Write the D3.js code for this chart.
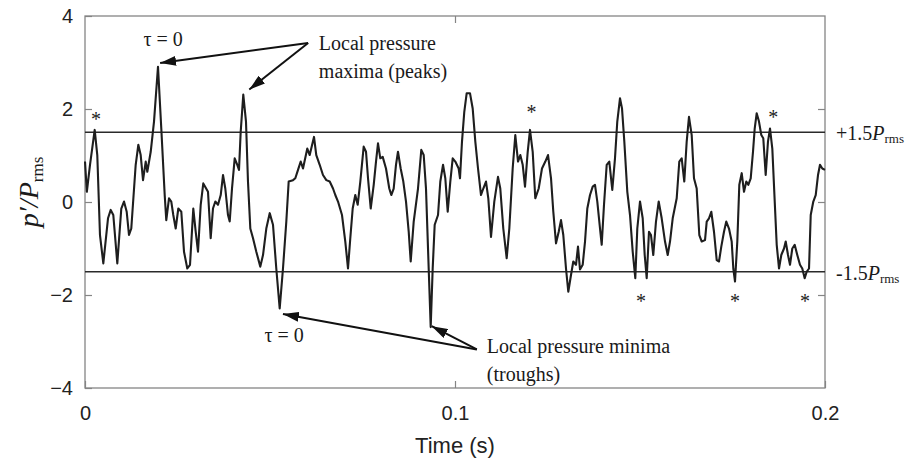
<!DOCTYPE html>
<html>
<head>
<meta charset="utf-8">
<script src="https://cdn.jsdelivr.net/npm/d3@7"></script>
<style>
  html, body { margin: 0; padding: 0; background: #fff; }
  svg { display: block; }
</style>
</head>
<body>
<svg id="chart" width="908" height="462"></svg>
<script>
// Normalised wall-pressure fluctuation p'/P_rms against time
const timeMs = [
  0, 0.5, 1.35, 2.62, 3.32, 4.05, 4.95, 6.22, 6.95, 7.65, 8.73, 9.81, 10.54, 11.27, 11.89, 12.51,
  13.70, 14.41, 15.05, 15.68, 16.41, 16.84, 17.76, 18.65, 19.73, 20.62, 21.54, 21.97, 22.70, 23.32,
  23.86, 24.51, 25.22, 26.03, 26.76, 27.65, 28.38, 29.27, 29.92, 30.54, 31.27, 31.97, 33.24, 33.97,
  34.59, 35.22, 35.95, 36.68, 37.30, 37.92, 38.65, 39.11, 39.73, 40.46, 41.16, 41.62, 42.08, 42.78,
  43.51, 44.05, 44.68, 45.41, 46.30, 47.38, 48.11, 49.00, 49.92, 50.81, 51.70, 52.62, 53.51, 54.41,
  55.05, 56.22, 56.84, 57.57, 58.30, 58.92, 60.08, 60.73, 61.89, 62.51, 63.43, 64.32, 65.22, 66.14,
  67.03, 67.65, 68.38, 69.46, 70.35, 71.08, 71.70, 72.35, 73.05, 73.70, 74.41, 75.32, 75.95, 76.49,
  77.22, 78.03, 78.65, 79.19, 79.81, 80.46, 81.35, 82.24, 82.78, 83.43, 84.05, 84.59, 85.32, 86.03,
  86.76, 87.49, 88.03, 88.84, 90.00, 90.89, 91.54, 92.16, 92.89, 93.43, 93.97, 94.51, 95.41, 96.03,
  96.76, 97.38, 98.03, 98.73, 99.38, 100.08, 100.99, 101.35, 101.89, 102.51, 103.16, 104.05, 104.78,
  105.49, 106.22, 107.03, 107.65, 108.38, 109.00, 109.73, 110.62, 111.62, 112.24, 113.05, 113.97,
  114.68, 115.59, 116.30, 117.03, 117.65, 118.30, 118.92, 119.65, 120.27, 121.00, 121.70, 122.62,
  123.51, 124.41, 125.14, 125.95, 126.57, 127.30, 128.03, 128.65, 129.27, 130.00, 130.62, 131.35,
  131.97, 132.70, 133.24, 133.78, 134.51, 135.14, 135.76, 136.49, 137.22, 137.84, 138.46, 139.19,
  139.65, 140.27, 141.00, 141.70, 142.51, 143.24, 143.86, 144.59, 145.14, 145.76, 146.57, 147.30,
  148.03, 148.73, 149.27, 150.00, 150.73, 151.27, 151.81, 152.43, 152.97, 153.59, 154.32, 155.05,
  155.86, 156.76, 157.49, 158.11, 158.84, 159.92, 160.62, 161.27, 161.97, 162.62, 163.24, 163.97,
  164.59, 165.32, 166.03, 166.68, 167.57, 168.03, 168.65, 169.27, 170.00, 170.73, 171.35, 171.97,
  172.70, 173.32, 174.05, 174.78, 175.22, 175.68, 176.30, 176.84, 177.49, 178.11, 178.73, 179.27,
  179.92, 180.54, 181.00, 181.54, 182.16, 182.78, 183.32, 183.97, 184.59, 185.14, 185.76, 186.41,
  186.95, 187.57, 188.19, 188.92, 189.38, 190.00, 190.54, 191.16, 191.81, 192.51, 193.24, 193.86,
  194.51, 195.05, 195.68, 196.14, 196.84, 197.49, 198.11, 198.65, 199.27, 200.00
];
const pressure = [
  0.87, 0.22, 0.80, 1.55, 1.01, -0.71, -1.32, -0.35, -0.17, -0.28, -1.32, -0.14, 0.01, -0.21, -0.71, -0.57,
  0.80, 1.23, 1.01, 0.47, 0.87, 0.65, 1.08, 1.73, 2.91, 1.58, 0.15, -0.39, 0.08, 0.01,
  -0.28, -0.57, -0.14, -0.21, -1.07, -1.43, -1.35, -0.14, -0.64, -1.07, -0.06, 0.40, 0.22, -0.78,
  -0.14, 0.01, -0.06, 0.15, 0.58, 0.29, -0.28, -0.42, 0.29, 0.94, 0.80, 0.69, 1.51, 2.31,
  1.73, 0.44, -0.57, -0.78, -1.07, -1.39, -1.14, -0.57, -0.24, -0.49, -1.43, -2.29, -1.43, -0.42,
  0.44, 0.47, 0.51, 0.69, 0.87, 0.72, 1.15, 1.01, 1.40, 1.01, 0.80, 0.58, 0.47, 0.44,
  0.29, 0.15, 0.01, -0.28, -0.85, -1.43, -0.78, -0.14, 0.15, -0.06, 0.44, 1.19, 1.08, 0.51,
  -0.14, 0.37, 0.87, 1.26, 0.94, 0.97, 0.72, 0.29, 0.15, 0.29, 0.80, 1.08, 0.72, 0.44,
  0.01, -0.64, -1.28, -0.42, 0.29, 1.12, 1.01, 0.29, -1.43, -2.69, -1.43, -0.49, -0.28, 0.44,
  0.80, 0.51, -0.21, 0.44, 0.94, 0.87, 0.72, 0.51, 1.30, 1.94, 2.34, 2.34, 2.01,
  1.30, 0.72, 0.15, 0.29, 0.44, 0.08, -0.75, 0.01, 0.54, 0.29, -0.57, -1.21,
  -0.57, 0.72, 1.44, 0.87, 1.01, 0.80, 0.33, 1.08, 1.55, 1.08, 0.08, 0.29,
  0.72, 0.87, 1.01, 0.51, -0.21, -0.89, -0.64, -0.39, -0.71, -1.43, -1.93, -1.57,
  -1.28, -1.35, -0.96, -1.45, -1.35, -0.85, -0.14, 0.15, 0.33, 0.37, 0.01, -0.57,
  -0.92, -0.06, 0.80, 0.87, 0.26, 0.94, 1.73, 2.23, 2.01, 1.30, 0.22, -0.28,
  -1.07, -1.64, -0.57, 0.01, -0.35, -1.14, -1.64, -0.64, -0.71, -1.14, -0.42, 0.01,
  -0.35, -0.85, -1.14, -0.85, -0.35, 0.08, 0.87, 0.94, 0.44, 1.30, 1.83, 1.44,
  0.51, 0.29, -0.71, -0.85, -0.82, -0.42, -0.35, -0.21, -0.64, -1.25, -1.28, -0.96,
  -0.64, -0.42, -0.57, -0.85, -1.43, -1.71, -0.85, 0.37, 0.62, 0.22, 0.44, 0.37,
  0.51, 1.08, 1.58, 1.91, 1.73, 1.44, 1.37, 0.58, 1.30, 1.58, 1.15, 0.01,
  -0.92, -1.43, -1.14, -1.00, -0.85, -1.14, -1.35, -1.00, -0.92, -1.14, -1.35, -1.43,
  -1.64, -1.50, -1.43, -0.28, 0.01, 0.15, 0.58, 0.80, 0.72, 0.69
];

// Axis ticks and threshold levels
const yTicks = [-4, -2, 0, 2, 4];
const xTicks = [0, 0.1, 0.2];
const xTickLabels = ["0", "0.1", "0.2"];
const thresholds = [1.5, -1.5];
const thresholdLabels = ["+1.5", "-1.5"];

// Events exceeding the ±1.5 P_rms thresholds (asterisk centres: time in ms, level)
const peakStarTimes = [2.97, 120.7, 186.0];
const peakStarLevels = [1.83, 1.98, 1.87];
const troughStarTimes = [150.3, 175.7, 194.6];
const troughStarLevels = [-2.09, -2.09, -2.09];

// Reference events (τ = 0) and the other extreme of each annotation
const maximaTargets = [[20.3, 2.99], [44.4, 2.42]];
const minimaTargets = [[53.5, -2.41], [93.7, -2.67]];
const maximaArrowStart = [60.3, 3.42];
const minimaArrowStart = [105.9, -3.17];

const serif = "'Liberation Serif', 'Times New Roman', serif";
const sans = "'Liberation Sans', Arial, sans-serif";

const svg = d3.select("#chart");
const x = d3.scaleLinear().domain([0, 0.2]).range([85, 825]);
const y = d3.scaleLinear().domain([-4, 4]).range([388, 16]);

const frameColor = "#858585";

// Left axis with inward ticks
const gLeft = svg.append("g").attr("transform", `translate(${x(0)},0)`)
  .call(d3.axisLeft(y).tickValues(yTicks).tickSize(-7).tickPadding(12).tickFormat(d3.format("d")));
// Right axis (ticks only)
const gRight = svg.append("g").attr("transform", `translate(${x(0.2)},0)`)
  .call(d3.axisRight(y).tickValues([-2, 0, 2]).tickSize(-7).tickFormat(""));
// Bottom axis
const gBottom = svg.append("g").attr("transform", `translate(0,${y(-4)})`)
  .call(d3.axisBottom(x).tickValues(xTicks).tickSize(-7).tickPadding(18)
    .tickFormat((d, i) => xTickLabels[i]));
// Top axis (ticks only)
const gTop = svg.append("g").attr("transform", `translate(0,${y(4)})`)
  .call(d3.axisTop(x).tickValues([0.1]).tickSize(-7).tickFormat(""));

[gLeft, gRight, gBottom, gTop].forEach(g => {
  g.select(".domain").remove();
  g.selectAll(".tick line").attr("stroke", frameColor).attr("stroke-width", 1.2);
  g.selectAll(".tick text").attr("fill", "#222").style("font-family", sans).style("font-size", "20px");
});

// Plot frame
svg.append("rect")
  .attr("x", x(0)).attr("y", y(4))
  .attr("width", x(0.2) - x(0)).attr("height", y(-4) - y(4))
  .attr("fill", "none").attr("stroke", frameColor).attr("stroke-width", 1.3);

// Threshold lines
svg.selectAll("line.threshold").data(thresholds).enter().append("line")
  .attr("class", "threshold")
  .attr("x1", x(0)).attr("x2", x(0.2))
  .attr("y1", d => y(d)).attr("y2", d => y(d))
  .attr("stroke", "#2a2a2a").attr("stroke-width", 1.6);

// Pressure signal
const series = timeMs.map((t, i) => [t / 1000, pressure[i]]);
svg.append("path")
  .datum(series)
  .attr("fill", "none")
  .attr("stroke", "#1e1e1e")
  .attr("stroke-width", 2.1)
  .attr("stroke-linejoin", "round")
  .attr("d", d3.line().x(d => x(d[0])).y(d => y(d[1])));

// Asterisks marking threshold crossings
const stars = peakStarTimes.map((t, i) => [t, peakStarLevels[i]])
  .concat(troughStarTimes.map((t, i) => [t, troughStarLevels[i]]));
svg.selectAll("text.star").data(stars).enter().append("text")
  .attr("class", "star")
  .attr("x", d => x(d[0] / 1000))
  .attr("y", d => y(d[1]) + 9)
  .attr("text-anchor", "middle")
  .style("font-family", serif).style("font-size", "20px").attr("fill", "#222")
  .text("*");

// Arrow marker
svg.append("defs").append("marker")
  .attr("id", "head")
  .attr("viewBox", "0 0 16 10")
  .attr("refX", 16).attr("refY", 5)
  .attr("markerWidth", 16).attr("markerHeight", 10)
  .attr("markerUnits", "userSpaceOnUse")
  .attr("orient", "auto")
  .append("path").attr("d", "M0,0 L16,5 L0,10 Z").attr("fill", "#111");

function arrows(start, targets) {
  targets.forEach(tg => {
    svg.append("line")
      .attr("x1", x(start[0] / 1000)).attr("y1", y(start[1]))
      .attr("x2", x(tg[0] / 1000)).attr("y2", y(tg[1]))
      .attr("stroke", "#111").attr("stroke-width", 2)
      .attr("marker-end", "url(#head)");
  });
}
arrows(maximaArrowStart, maximaTargets);
arrows(minimaArrowStart, minimaTargets);

// Annotation text
function label(tx, ty, lines, anchor) {
  const t = svg.append("text")
    .attr("x", tx).attr("y", ty)
    .attr("text-anchor", anchor || "start")
    .style("font-family", serif).style("font-size", "20px").attr("fill", "#1a1a1a");
  lines.forEach((s, i) => {
    t.append("tspan").attr("x", tx).attr("dy", i === 0 ? 0 : 28).text(s);
  });
}
label(x(0.0211), y(3.35), ["τ = 0"], "middle");
label(x(0.0538), y(-3.01), ["τ = 0"], "middle");
label(x(0.0632), y(3.27), ["Local pressure", "maxima (peaks)"]);
label(x(0.1086), y(-3.25), ["Local pressure minima", "(troughs)"]);

// Threshold labels on the right
thresholds.forEach((v, i) => {
  const t = svg.append("text")
    .attr("x", 836).attr("y", y(v) + 8)
    .style("font-family", serif).style("font-size", "20px").attr("fill", "#1a1a1a");
  t.append("tspan").text(thresholdLabels[i]);
  t.append("tspan").style("font-style", "italic").text("P");
  t.append("tspan").style("font-size", "13px").attr("dy", 3).text("rms");
});

// Axis titles
svg.append("text")
  .attr("x", x(0.1)).attr("y", 453)
  .attr("text-anchor", "middle")
  .style("font-family", sans).style("font-size", "22px").attr("fill", "#222")
  .text("Time (s)");

const yTitle = svg.append("text")
  .attr("transform", "translate(38,192) rotate(-90)")
  .attr("text-anchor", "middle")
  .style("font-family", serif).style("font-size", "28px").attr("fill", "#1a1a1a");
yTitle.append("tspan").style("font-style", "italic").text("p′/P");
yTitle.append("tspan").style("font-size", "17px").attr("dy", 5).text("rms");
</script>
</body>
</html>
